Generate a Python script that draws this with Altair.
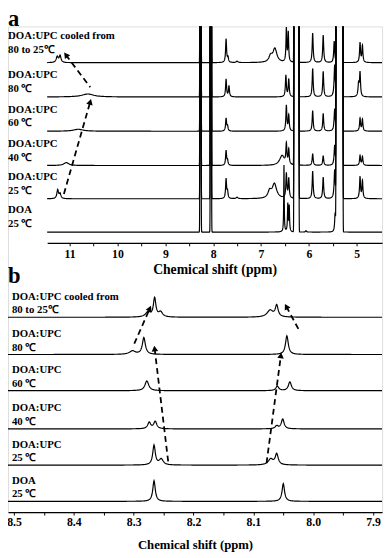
import numpy as np
import pandas as pd
import altair as alt

alt.data_transformers.disable_max_rows()

# ---------------- data ----------------
TRACES = ["cooled", "80", "60", "40", "25", "DOA"]
LABEL_1 = ["DOA:UPC cooled from", "DOA:UPC", "DOA:UPC", "DOA:UPC", "DOA:UPC", "DOA"]
LABEL_2 = ["80 to 25℃", "80 ℃", "60 ℃", "40 ℃", "25 ℃", "25 ℃"]

# vertical offsets of each spectrum (stacking), panel a and panel b
A_BASE = [459, 424, 389, 354, 320, 286]
B_BASE = [199, 161, 124, 85, 48, 11]

# panel a peaks: (ppm, height, half-width)
A_COOLED = [(11.26, 6, 0.025), (11.20, 7, 0.022), (7.73, 24, 0.012), (7.69, 5, 0.012),
            (7.50, 1.5, 0.02), (6.80, 6, 0.04), (6.71, 14, 0.05), (6.47, 34, 0.01),
            (6.43, 30, 0.01), (5.92, 30, 0.012), (5.70, 28, 0.012), (5.47, 22, 0.012),
            (4.93, 20, 0.012), (4.88, 17, 0.012)]
A_80 = [(10.62, 3, 0.15), (7.73, 18, 0.012), (7.67, 11, 0.012), (6.48, 22, 0.012),
        (6.42, 18, 0.012), (5.92, 29, 0.012), (5.70, 26, 0.012), (5.46, 33, 0.014),
        (4.96, 13, 0.014), (4.93, 24, 0.012)]
A_60 = [(10.82, 2, 0.12), (7.73, 13, 0.012), (7.70, 5, 0.012), (6.47, 26, 0.012),
        (6.42, 16, 0.012), (5.92, 21, 0.012), (5.70, 18, 0.012), (5.46, 23, 0.014),
        (4.93, 13, 0.012), (4.88, 12, 0.012)]
A_40 = [(11.07, 3, 0.06), (7.73, 15, 0.012), (7.70, 5, 0.012), (6.56, 10, 0.06),
        (6.47, 20, 0.012), (6.42, 15, 0.012), (5.92, 12, 0.012), (5.70, 10, 0.012),
        (5.46, 21, 0.014), (4.93, 10, 0.012), (4.88, 9, 0.012)]
A_25 = [(11.25, 9, 0.02), (11.20, 5, 0.02), (7.73, 20, 0.012), (7.70, 7, 0.012),
        (7.50, 1.5, 0.02), (6.82, 7, 0.04), (6.72, 15, 0.055), (6.47, 25, 0.012),
        (6.42, 20, 0.012), (5.92, 28, 0.012), (5.70, 22, 0.012), (5.46, 30, 0.014),
        (4.93, 22, 0.012), (4.88, 18, 0.012)]
A_DOA = [(6.52, 68, 0.006), (6.44, 28, 0.008), (6.41, 26, 0.008), (6.06, 1.5, 0.01),
         (5.45, 20, 0.012)]
# off-scale peaks present in every spectrum of panel a
A_TALL = [8.265, 8.048, 6.30, 6.28, 6.26, 6.24, 6.22,
          5.42, 5.40, 5.38, 5.36, 5.34, 5.32, 5.30]
A_TALL_HEIGHT = 2000
A_TALL_SIGMA = 0.006

# panel b peaks: (ppm, height, half-width)
B_COOLED = [(8.276, 5, 0.005), (8.265, 19, 0.0025), (8.255, 5, 0.004),
            (8.072, 7, 0.006), (8.061, 11.5, 0.0028)]
B_80 = [(8.302, 3.5, 0.006), (8.283, 17, 0.003), (8.044, 19, 0.0028)]
B_60 = [(8.278, 10, 0.0038), (8.060, 4.5, 0.003), (8.039, 9, 0.003)]
B_40 = [(8.274, 6.5, 0.003), (8.264, 7.5, 0.003), (8.061, 3, 0.003), (8.051, 10, 0.0028)]
B_25 = [(8.266, 20, 0.0026), (8.254, 6, 0.004), (8.071, 6, 0.005), (8.061, 11, 0.003)]
B_DOA = [(8.266, 21, 0.0025), (8.050, 18, 0.0025)]

# dashed arrows (start ppm, start offset, end ppm, end offset)
A_ARROW_X0 = [11.12, 10.57]
A_ARROW_Y0 = [325, 434]
A_ARROW_X1 = [10.57, 11.08]
A_ARROW_Y1 = [419, 467]
B_ARROW_X0 = [8.242, 8.299, 8.078, 8.022]
B_ARROW_Y0 = [50, 172, 50, 184]
B_ARROW_X1 = [8.265, 8.273, 8.054, 8.045]
B_ARROW_Y1 = [167, 208, 160, 210]

A_TICKS = [11.0, 10.5, 10.0, 9.5, 9.0, 8.5, 8.0, 7.5, 7.0, 6.5, 6.0, 5.5, 5.0]
B_TICKS = [8.5, 8.45, 8.4, 8.35, 8.3, 8.25, 8.2, 8.15, 8.1, 8.05, 8.0, 7.95, 7.9]

# ---------------- layout ----------------
W, H = 382, 496
A_DOMAIN = [4.47, 11.47]
A_RANGE = [40, 382]
B_DOMAIN = [7.885, 8.51]
FONT = "'Liberation Serif', 'Times New Roman', Times, serif"


def build(peaks_list, bases, lo, hi, step, tall=None):
    rows = []
    for name, peaks, base in zip(TRACES, peaks_list, bases):
        xs = [np.arange(lo, hi + step / 2, step)]
        for c, h, w in peaks:
            xs.append(np.linspace(c - 6 * w, c + 6 * w, 49))
        if tall:
            for c in tall:
                xs.append(np.linspace(c - 5 * A_TALL_SIGMA, c + 5 * A_TALL_SIGMA, 31))
        x = np.unique(np.clip(np.concatenate(xs), lo, hi))
        y = np.full_like(x, float(base))
        for c, h, w in peaks:
            y += h * w ** 2 / ((x - c) ** 2 + w ** 2)
        if tall:
            for c in tall:
                y += A_TALL_HEIGHT * np.exp(-((x - c) ** 2) / (2 * A_TALL_SIGMA ** 2))
        rows.append(pd.DataFrame({"ppm": np.round(x, 5), "u": np.round(y, 2), "trace": name}))
    return pd.concat(rows, ignore_index=True)


df_a = build([A_COOLED, A_80, A_60, A_40, A_25, A_DOA], A_BASE, A_DOMAIN[0], A_DOMAIN[1], 0.02, A_TALL)
df_b = build([B_COOLED, B_80, B_60, B_40, B_25, B_DOA], B_BASE, B_DOMAIN[0], B_DOMAIN[1], 0.001)

px_a = (A_RANGE[1] - A_RANGE[0]) / (A_DOMAIN[1] - A_DOMAIN[0])
px_b = W / (B_DOMAIN[1] - B_DOMAIN[0])


def arrows(x0, y0, x1, y1, pxppm):
    lines, heads = [], []
    for i, (a, b, c, d) in enumerate(zip(x0, y0, x1, y1)):
        lines += [{"ppm": a, "u": b, "k": i}, {"ppm": c, "u": d, "k": i}]
        ang = np.degrees(np.arctan2(-(c - a) * pxppm, d - b)) % 360
        heads.append({"ppm": c, "u": d, "angle": float(ang)})
    return pd.DataFrame(lines), pd.DataFrame(heads)


arr_a_l, arr_a_h = arrows(A_ARROW_X0, A_ARROW_Y0, A_ARROW_X1, A_ARROW_Y1, px_a)
arr_b_l, arr_b_h = arrows(B_ARROW_X0, B_ARROW_Y0, B_ARROW_X1, B_ARROW_Y1, px_b)

A_LIFT = [5, 0, 0, 0, 0, 0]
lab_a = pd.DataFrame({"t": LABEL_1 + LABEL_2,
                      "u": [b + 22 + l for b, l in zip(A_BASE, A_LIFT)] + [b + 8 + l for b, l in zip(A_BASE, A_LIFT)]})
lab_b = pd.DataFrame({"t": LABEL_1 + LABEL_2,
                      "u": [b + 21 for b in B_BASE] + [b + 7 for b in B_BASE]})

ys = alt.Scale(domain=[0, H], nice=False, zero=False)
xa = alt.Scale(domain=A_DOMAIN, range=A_RANGE, reverse=True, nice=False, zero=False)
xb = alt.Scale(domain=B_DOMAIN, reverse=True, nice=False, zero=False)

axis_common = dict(orient="bottom", grid=False, domainColor="black", domainWidth=1.2,
                   tickColor="black", tickSize=3, tickWidth=1, labelFont=FONT, labelFontWeight="bold",
                   labelFontSize=12, labelColor="black", titleFont=FONT, titleFontWeight="bold",
                   titleColor="black", title="Chemical shift (ppm)", labelFlush=False)
axis_a = alt.Axis(values=A_TICKS, offset=-275, labelPadding=3, titlePadding=3, titleFontSize=14,
                  labelExpr="datum.value % 1 == 0 ? format(datum.value, 'd') : ''", **axis_common)
axis_b = alt.Axis(values=B_TICKS, offset=0, labelPadding=2, titlePadding=11, titleFontSize=13,
                  labelExpr="round(datum.value*100) % 10 == 0 ? format(datum.value, '.1f') : ''", **axis_common)

yenc = alt.Y("u:Q", scale=ys, axis=None)


def panel(df, arr_l, arr_h, lab, xscale, axis, label_x):
    X = alt.X("ppm:Q", scale=xscale, axis=axis)
    spectra = alt.Chart(df).mark_line(color="black", strokeWidth=1.2, clip=True).encode(
        x=X, y=yenc, detail="trace:N")
    dash = alt.Chart(arr_l).mark_line(color="black", strokeWidth=1.8, strokeDash=[6, 4]).encode(
        x=X, y=yenc, detail="k:N")
    heads = alt.Chart(arr_h).mark_point(shape="triangle-up", filled=True, color="black",
                                        opacity=1, size=45).encode(
        x=X, y=yenc, angle=alt.Angle("angle:Q", scale=None))
    text = alt.Chart(lab).mark_text(align="left", baseline="middle", font=FONT, fontWeight="bold",
                                     fontSize=11, color="black").encode(
        x=alt.value(label_x), y=yenc, text="t:N")
    return alt.layer(spectra, dash, heads, text)


pa = panel(df_a, arr_a_l, arr_a_h, lab_a, xa, axis_a, 0)
pb = panel(df_b, arr_b_l, arr_b_h, lab_b, xb, axis_b, 4)

letters = alt.Chart(pd.DataFrame({"t": ["a", "b"], "py": [0, 262]})).mark_text(
    align="left", baseline="alphabetic", font=FONT, fontWeight="bold", fontSize=23, color="black"
).encode(x=alt.value(0), y=alt.Y("py:Q", scale=None, axis=None), text="t:N")

chart = alt.layer(pa, pb, letters).resolve_scale(x="independent").resolve_axis(x="independent").properties(
    width=W, height=H, autosize="none",
    padding={"left": 0, "top": 13, "right": 2, "bottom": 41},
).configure_view(stroke=None).configure(background="white")

chart.save("out.html", embed_options={"renderer": "svg", "actions": False})
